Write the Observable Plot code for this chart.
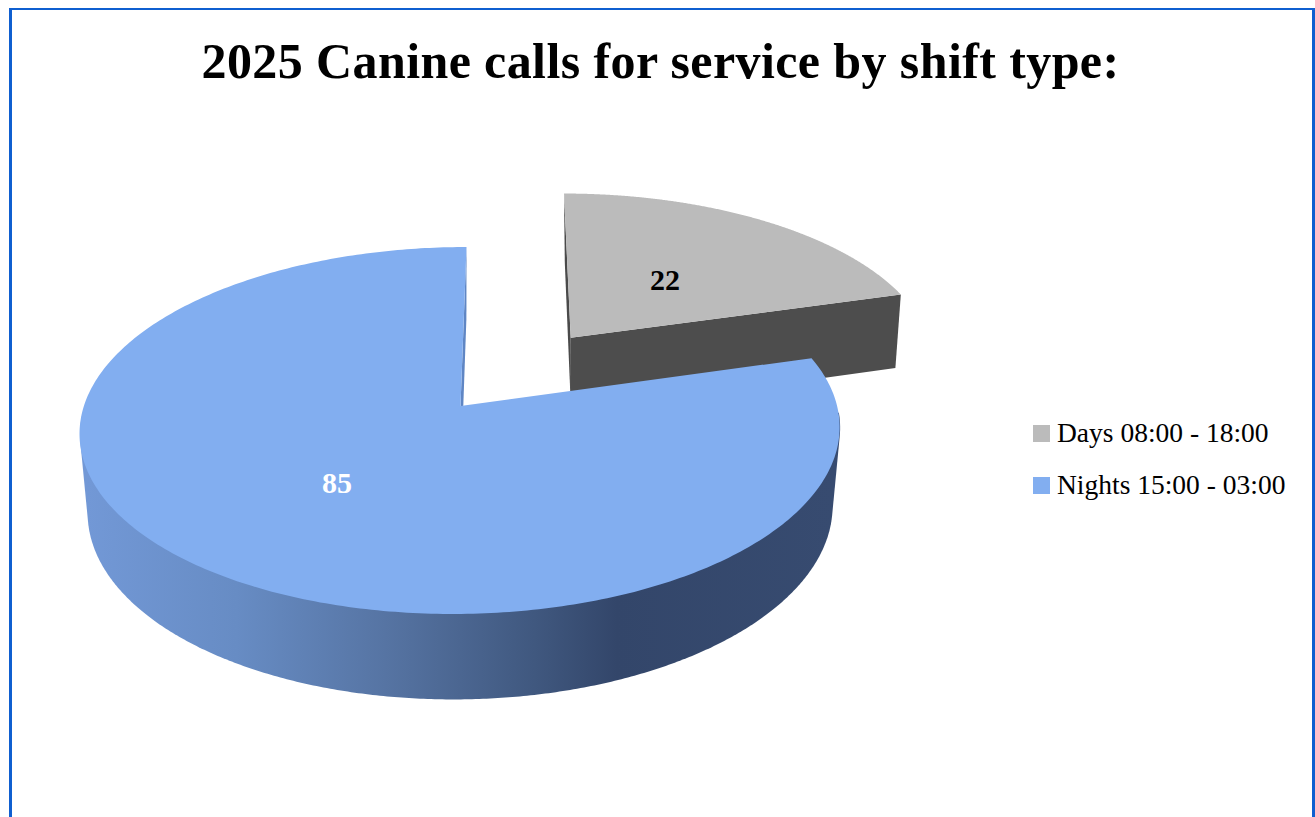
<!DOCTYPE html>
<html>
<head>
<meta charset="utf-8">
<script src="https://cdn.jsdelivr.net/npm/d3@7"></script>
<script src="https://cdn.jsdelivr.net/npm/@observablehq/plot@0.6"></script>
<style>
  html, body { margin: 0; height: 817px; overflow: hidden; background: #fff; }
  #frame {
    position: absolute; left: 9px; top: 8px; width: 1300px; height: 830px;
    border: solid #0f5fd0; border-width: 2px 3px; box-sizing: content-box;
    font-family: "Liberation Serif", serif; color: #000;
  }
  #title {
    height: 100px; line-height: 102px; text-align: center; margin: 0;
    font-size: 50px; font-weight: bold; letter-spacing: 0.4px; padding-right: 3px;
  }
  #row { display: flex; align-items: flex-start; }
  #legend { margin: 310px 0 0 11px; font-size: 27.5px; }
  .entry { display: flex; align-items: center; height: 26px; margin-bottom: 26px; white-space: nowrap; }
  .swatch { width: 17px; height: 17px; margin-right: 7px; flex: none; }
</style>
</head>
<body>
<div id="frame">
  <h1 id="title">2025 Canine calls for service by shift type:</h1>
  <div id="row"><div id="chart"></div><div id="legend"></div></div>
</div>
<script>
// Calls per shift
const shifts = ["Days 08:00 - 18:00", "Nights 15:00 - 03:00"];
const calls = [22, 85];
const topColors = ["#bbbbbb", "#82aef0"];
const labelColors = ["#000000", "#ffffff"];
const labelRadius = [0.47, 0.505];
const exploded = [true, false];

const width = 1010, height = 700;

// Perspective view of the pie's unit disc, tilted away from the viewer
const view = {cx: 448.5, cy: 296, a: 376.6, b: 180.2, shear: 6.8, far: 0.1335, sink: 0.02, depth: 79.5};
function project(u, v, z = 0, lean = 0) {
  const w = 1 + view.far * v + view.sink * z;
  return [
    view.cx + (view.a * u + view.shear * v) / w + lean * z,
    view.cy + (-view.b * v + view.depth * z) / w
  ];
}

// Angular extents follow from the values, clockwise from twelve o'clock
const total = d3.sum(calls);
const pull = 0.5;
let running = 0;
const slices = shifts.map((shift, i) => {
  const start = running / total * 2 * Math.PI;
  running += calls[i];
  const end = running / total * 2 * Math.PI;
  const mid = (start + end) / 2;
  const off = exploded[i] ? pull : 0;
  return {shift, value: calls[i], start, end, mid, du: off * Math.sin(mid), dv: off * Math.cos(mid), lean: exploded[i] ? 2.5 : 0, color: topColors[i], labelColor: labelColors[i], labelR: labelRadius[i]};
});

const at = (s, r, t, z = 0) => project(s.du + r * Math.sin(t), s.dv + r * Math.cos(t), z, s.lean);

// Front wall of a slice: the convex outline of the forward-facing rims, top and bottom.
// The part behind the top face is covered when that face is drawn.
function frontWall(s, fromDeg, toDeg) {
  const pts = [];
  for (const deg of d3.range(fromDeg, toDeg + 0.5, 0.5)) {
    const t = deg * Math.PI / 180;
    pts.push(at(s, 1, t), at(s, 1, t, 1));
  }
  return d3.polygonHull(pts);
}
// Flat top of one slice: a ribbon from its apex out to the rim
function topFace(s) {
  const [x1, y1] = at(s, 0, 0);
  return d3.range(0, 361).map(k => {
    const [x2, y2] = at(s, 1, s.start + (s.end - s.start) * k / 360);
    return {x1, y1, x2, y2};
  });
}
// Radial cut face of one slice at angle t
function cutFace(s, t) {
  const a = at(s, 0, t), b = at(s, 0, t, 1), c = at(s, 1, t), d = at(s, 1, t, 1);
  return [{x1: a[0], y1: a[1], x2: b[0], y2: b[1]}, {x1: c[0], y1: c[1], x2: d[0], y2: d[1]}];
}

const ribbon = (rows, fill) => Plot.area(rows, {x1: "x1", y1: "y1", x2: "x2", y2: "y2", fill});

const labels = slices.map(s => {
  const [x, y] = at(s, s.labelR, s.mid);
  return {x, y, text: String(s.value), color: s.labelColor};
});

// Horizontal shading for the front wall of the large slice
function wallShade() {
  const defs = d3.create("svg:defs");
  const g = defs.append("linearGradient").attr("id", "wall-shade")
    .attr("gradientUnits", "userSpaceOnUse")
    .attr("x1", 75).attr("x2", 820).attr("y1", 0).attr("y2", 0);
  for (const [o, c] of [[0, "#7298d6"], [0.2, "#678cc4"], [0.4, "#5674a3"], [0.6, "#40587f"], [0.71, "#33466a"], [1, "#374b70"]]) {
    g.append("stop").attr("offset", o).attr("stop-color", c);
  }
  return defs.node();
}

const [days, nights] = slices;

const chart = Plot.plot({
  width, height,
  margin: 0,
  x: {domain: [0, width], range: [0, width], axis: null},
  y: {domain: [0, height], range: [0, height], axis: null},
  marks: [
    wallShade,
    ribbon(cutFace(days, days.start), "#4a4a4a"),
    ribbon(cutFace(days, days.end), "#4d4d4d"),
    ribbon(topFace(days), days.color),
    Plot.line(frontWall(nights, 92, 268), {x: d => d[0], y: d => d[1], fill: "url(#wall-shade)", stroke: "none"}),
    ribbon(cutFace(nights, nights.end), "#5f86c4"),
    ribbon(topFace(nights), nights.color),
    Plot.text(labels, {x: "x", y: "y", text: "text", fill: "color", fontSize: 30, fontWeight: "bold", fontFamily: "Liberation Serif"})
  ]
});
document.getElementById("chart").append(chart);

// Legend beside the plot
const legend = d3.select("#legend");
slices.forEach(s => {
  const row = legend.append("div").attr("class", "entry");
  row.append("span").attr("class", "swatch").style("background", s.color);
  row.append("span").text(s.shift);
});
</script>
</body>
</html>
